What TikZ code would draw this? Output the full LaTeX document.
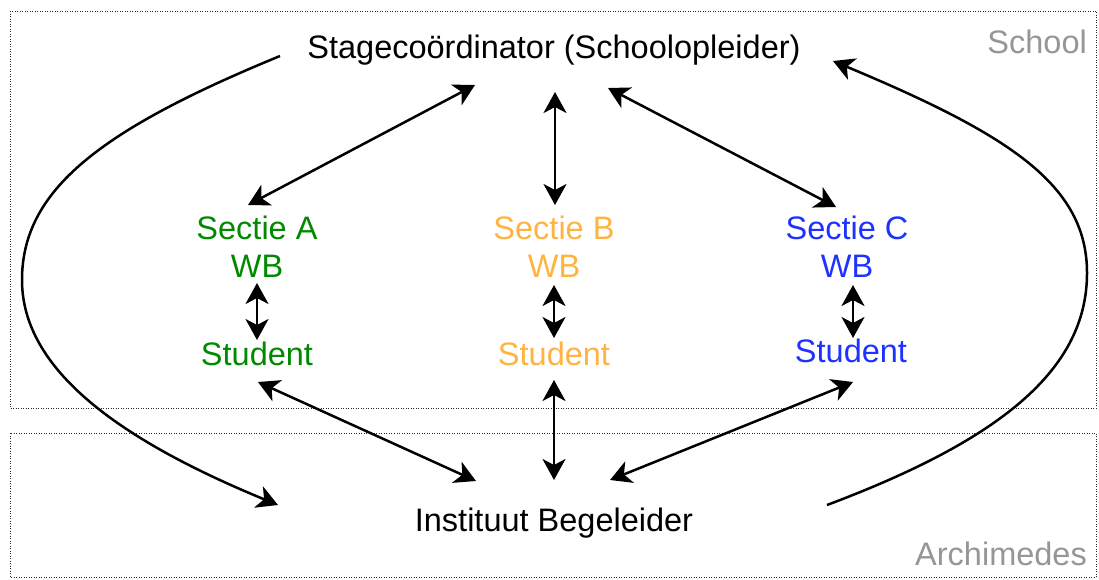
\documentclass[tikz,border=0pt]{standalone}
\usepackage{fontspec}
\setmainfont{Liberation Sans}
\usetikzlibrary{calc,arrows.meta}
\definecolor{cgreen}{RGB}{0,138,0}
\definecolor{corange}{RGB}{255,179,64}
\definecolor{cblue}{RGB}{30,50,255}
\definecolor{cgrey}{RGB}{150,150,150}
\begin{document}
\begin{tikzpicture}[x=1pt,y=-1pt,
  lbl/.style={inner sep=0pt,font=\fontsize{32.5}{38}\selectfont},
  sec/.style={lbl,align=center},
  zone/.style={draw=black!85,line width=1pt,dash pattern=on 1pt off 1.5pt},
  dbl/.style={line width=2.5pt,{Stealth[length=21pt,width=23pt,inset=6pt]}-{Stealth[length=21pt,width=23pt,inset=6pt]}},
  one/.style={line width=2.5pt,-{Stealth[length=21pt,width=23pt,inset=6pt]}}]
\useasboundingbox (0,0) rectangle (1099,579);
\draw[zone] (10,11) rectangle (1096,408);
\draw[zone] (10,433) rectangle (1096,577);
\node[lbl,text=cgrey,anchor=east] (school) at (1087,42) {School};
\node[lbl,text=cgrey,anchor=east] (archi) at (1087,554) {Archimedes};
\node[lbl] (stage) at (554,50) {Stagecoördinator (Schoolopleider)};
\node[sec,text=cgreen] (secA) at (257,247) {Sectie A\\WB};
\node[sec,text=corange] (secB) at (554,247) {Sectie B\\WB};
\node[sec,text=cblue] (secC) at (847,247) {Sectie C\\WB};
\node[lbl,text=cgreen] (stuA) at (257,354) {Student};
\node[lbl,text=corange] (stuB) at (554,354) {Student};
\node[lbl,text=cblue] (stuC) at (851,351) {Student};
\node[lbl] (inst) at (554,523) {Instituut Begeleider};
% stage <-> secties
\draw[dbl] ($(stage)+(-79,35)$) -- ($(secA)+(-9,-42)$);
\draw[dbl] ($(stage)+(1,42)$) -- ($(secB)+(1,-42)$);
\draw[dbl] ($(stage)+(54,38)$) -- ($(secC)+(-11,-40)$);
% WB <-> student
\draw[dbl] ($(secA)+(0,36)$) -- ($(stuA)+(0,-14)$);
\draw[dbl] ($(secB)+(0,38)$) -- ($(stuB)+(0,-16)$);
\draw[dbl] ($(secC)+(6,38)$) -- ($(stuC)+(2,-13)$);
% student <-> instituut
\draw[dbl] ($(stuA)+(1,28)$) -- ($(inst)+(-78,-42)$);
\draw[dbl] ($(stuB)+(0,26)$) -- ($(inst)+(0,-43)$);
\draw[dbl] ($(stuC)+(2,31)$) -- ($(inst)+(56,-43)$);
% big curves
\draw[one] ($(stage)+(-274,6)$) .. controls (100,130) and (22,190) .. (22,280)
  .. controls (22,370) and (120,440) .. ($(inst)+(-276,-18)$);
\draw[one] ($(inst)+(273,-18)$) .. controls (1000,440) and (1087,370) .. (1087,273)
  .. controls (1087,185) and (1010,135) .. ($(stage)+(279,11)$);
\end{tikzpicture}
\end{document}
